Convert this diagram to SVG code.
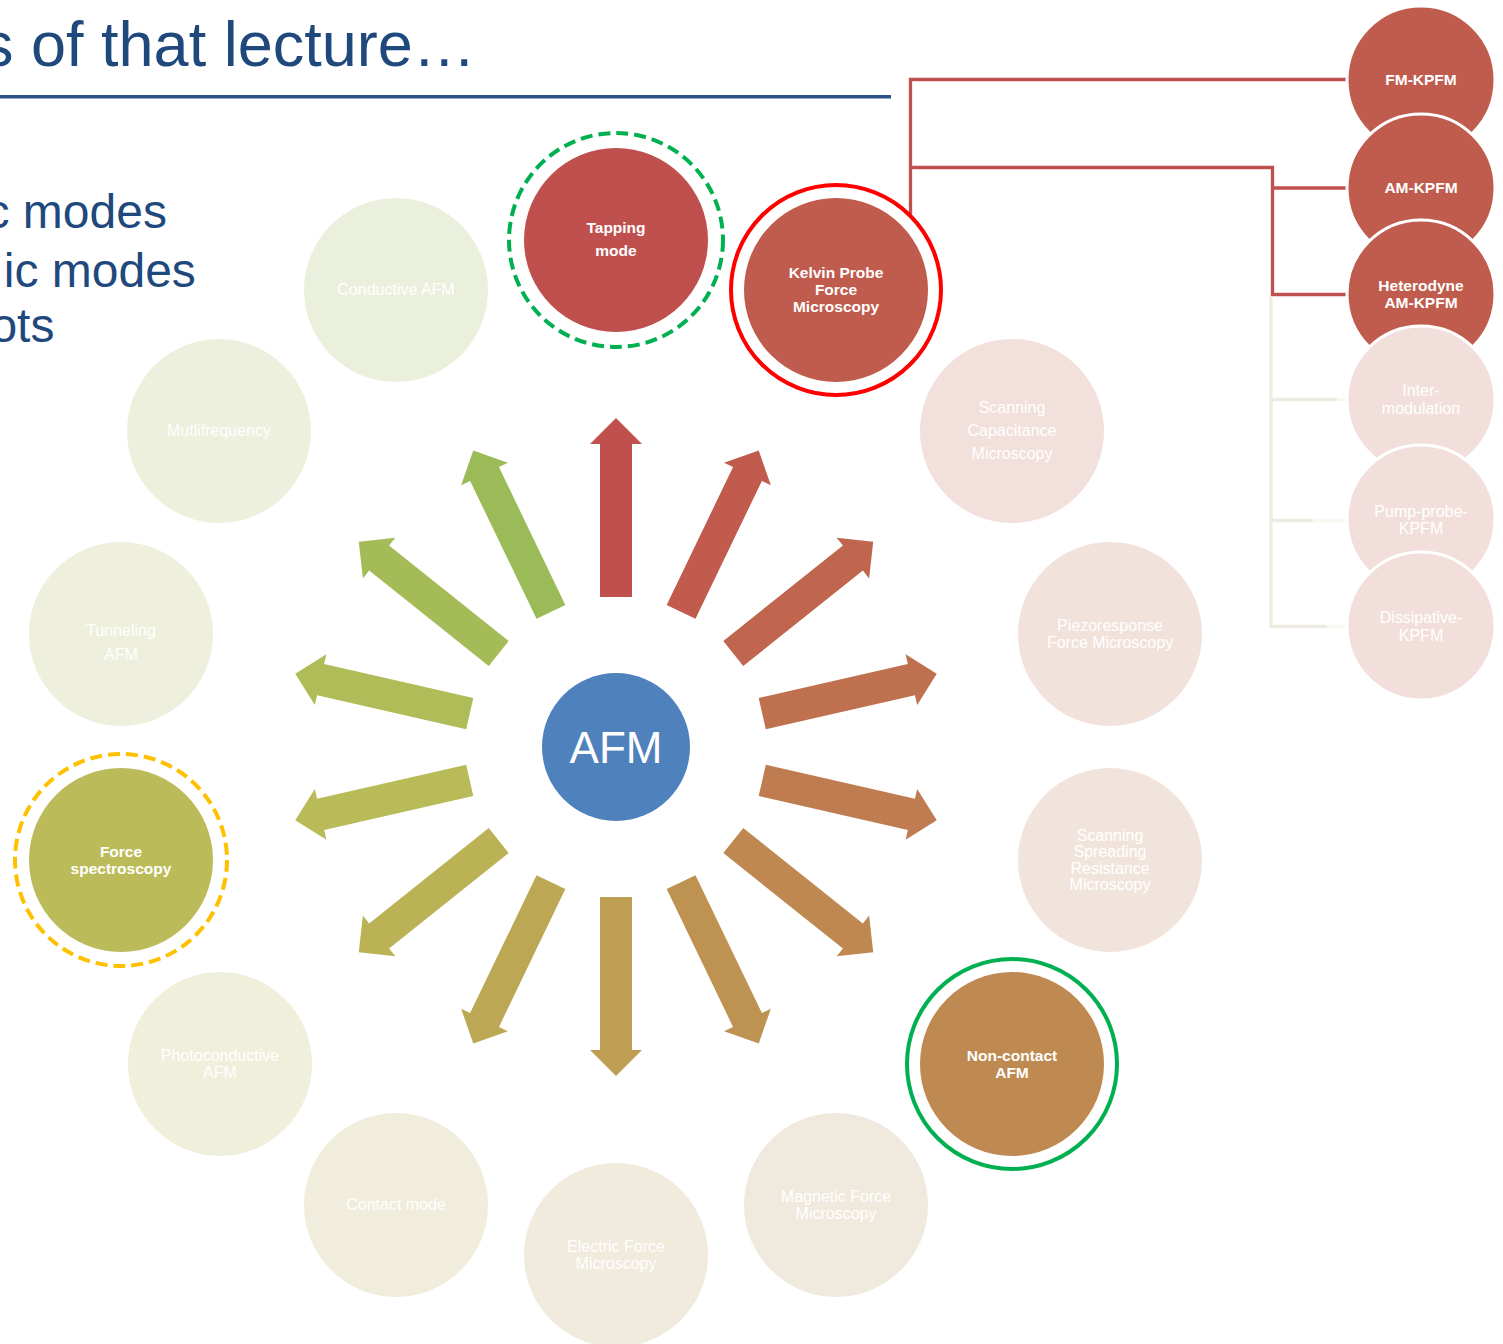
<svg xmlns="http://www.w3.org/2000/svg" width="1503" height="1344" viewBox="0 0 1503 1344">
<style>
.title{font-family:"Liberation Sans",Arial,sans-serif;fill:#1F497D}
.nb{font-family:"Liberation Sans",Arial,sans-serif;font-weight:bold;font-size:15.5px;fill:#FFFFFF;text-anchor:middle}
.nf{font-family:"Liberation Sans",Arial,sans-serif;font-size:16px;fill:#FFFFFF;text-anchor:middle}
.rc{stroke:#FFFFFF;stroke-width:3}
.red{fill:none;stroke:#C0504D;stroke-width:3.3}
.pale{fill:none;stroke:#EEEBE0;stroke-width:3.3}
.fade{fill:none;stroke:#F8F7F2;stroke-width:3.3}
</style>
<defs>
<path id="arr" d="M -16,-150 L -16,-303 L -26,-303 L 0,-329 L 26,-303 L 16,-303 L 16,-150 Z"/>
</defs>
<rect width="1503" height="1344" fill="#FFFFFF"/>

<g id="title">
<text class="title" x="-18" y="66" font-size="63">s of that lecture…</text>
<rect x="0" y="95" width="891" height="3.5" fill="#2A5188"/>
<text class="title" x="-14.5" y="228" font-size="48">c modes</text>
<text class="title" x="3.8" y="287" font-size="48">ic modes</text>
<text class="title" x="-9.6" y="342" font-size="48">ots</text>
</g>

<g id="connectors">
<polyline class="red" points="910.5,214 910.5,79.5 1350,79.5"/>
<polyline class="red" points="910.5,167.5 1272.5,167.5 1272.5,294.5 1350,294.5"/>
<line class="red" x1="1272.5" y1="188" x2="1350" y2="188"/>
<line class="pale" x1="1271" y1="296" x2="1271" y2="627"/>
<line class="pale" x1="1271" y1="399.5" x2="1337" y2="399.5"/>
<line class="fade" x1="1337" y1="399.5" x2="1350" y2="399.5"/>
<line class="pale" x1="1271" y1="520.5" x2="1313" y2="520.5"/>
<line class="fade" x1="1313" y1="520.5" x2="1350" y2="520.5"/>
<polyline class="pale" points="1271,625 1271,626.5 1326,626.5"/>
<line class="fade" x1="1326" y1="626.5" x2="1350" y2="626.5"/>
</g>

<g id="arrows">
<use href="#arr" transform="translate(616,747) rotate(0)" fill="#C0504D"/>
<use href="#arr" transform="translate(616,747) rotate(25.714)" fill="#C05B4D"/>
<use href="#arr" transform="translate(616,747) rotate(51.429)" fill="#C0664E"/>
<use href="#arr" transform="translate(616,747) rotate(77.143)" fill="#BF714F"/>
<use href="#arr" transform="translate(616,747) rotate(102.857)" fill="#BF7C50"/>
<use href="#arr" transform="translate(616,747) rotate(128.571)" fill="#BE8850"/>
<use href="#arr" transform="translate(616,747) rotate(154.286)" fill="#BE9352"/>
<use href="#arr" transform="translate(616,747) rotate(180)" fill="#BD9E52"/>
<use href="#arr" transform="translate(616,747) rotate(205.714)" fill="#BCA854"/>
<use href="#arr" transform="translate(616,747) rotate(231.429)" fill="#BBB256"/>
<use href="#arr" transform="translate(616,747) rotate(257.143)" fill="#B9BB58"/>
<use href="#arr" transform="translate(616,747) rotate(282.857)" fill="#AFBC58"/>
<use href="#arr" transform="translate(616,747) rotate(308.571)" fill="#A5BB58"/>
<use href="#arr" transform="translate(616,747) rotate(334.286)" fill="#9BBB59"/>
</g>

<g id="afm">
<circle cx="616" cy="747" r="74" fill="#4F81BD"/>
<text x="616" y="763" font-family="'Liberation Sans',Arial,sans-serif" font-size="44" fill="#FFFFFF" text-anchor="middle">AFM</text>
</g>

<g id="tapping-mode">
<circle cx="616" cy="240" r="107" fill="none" stroke="#00B050" stroke-width="4" stroke-dasharray="12 6"/>
<circle cx="616" cy="240" r="92" fill="#C0504D"/>
<text class="nb" x="616" y="233">Tapping</text>
<text class="nb" x="616" y="256">mode</text>
</g>

<g id="kpfm">
<circle cx="836" cy="290" r="105" fill="none" stroke="#FF0000" stroke-width="4"/>
<circle cx="836" cy="290" r="92" fill="#C05C4E"/>
<text class="nb" x="836" y="278">Kelvin Probe</text>
<text class="nb" x="836" y="295">Force</text>
<text class="nb" x="836" y="312">Microscopy</text>
</g>

<g id="scm">
<circle cx="1012" cy="431" r="92" fill="#F2E0DC"/>
<text class="nf" x="1012" y="413">Scanning</text>
<text class="nf" x="1012" y="436">Capacitance</text>
<text class="nf" x="1012" y="459">Microscopy</text>
</g>

<g id="pfm">
<circle cx="1110" cy="634" r="92" fill="#F1E2DC"/>
<text class="nf" x="1110" y="631">Piezoresponse</text>
<text class="nf" x="1110" y="648">Force Microscopy</text>
</g>

<g id="ssrm">
<circle cx="1110" cy="860" r="92" fill="#F1E4DD"/>
<text class="nf" x="1110" y="841">Scanning</text>
<text class="nf" x="1110" y="857">Spreading</text>
<text class="nf" x="1110" y="874">Resistance</text>
<text class="nf" x="1110" y="890">Microscopy</text>
</g>

<g id="non-contact">
<circle cx="1012" cy="1064" r="105" fill="none" stroke="#00B050" stroke-width="4"/>
<circle cx="1012" cy="1064" r="92" fill="#BE8A51"/>
<text class="nb" x="1012" y="1061">Non-contact</text>
<text class="nb" x="1012" y="1078">AFM</text>
</g>

<g id="mfm">
<circle cx="836" cy="1205" r="92" fill="#F0E9DD"/>
<text class="nf" x="836" y="1202">Magnetic Force</text>
<text class="nf" x="836" y="1219">Microscopy</text>
</g>

<g id="efm">
<circle cx="616" cy="1255" r="92" fill="#F0EBDC"/>
<text class="nf" x="616" y="1252">Electric Force</text>
<text class="nf" x="616" y="1269">Microscopy</text>
</g>

<g id="contact-mode">
<circle cx="396" cy="1205" r="92" fill="#F0EDDC"/>
<text class="nf" x="396" y="1210">Contact mode</text>
</g>

<g id="photoconductive">
<circle cx="220" cy="1064" r="92" fill="#F0EFDC"/>
<text class="nf" x="220" y="1061">Photoconductive</text>
<text class="nf" x="220" y="1078">AFM</text>
</g>

<g id="force-spectroscopy">
<circle cx="121" cy="860" r="106" fill="none" stroke="#FFC000" stroke-width="4" stroke-dasharray="12 6"/>
<circle cx="121" cy="860" r="92" fill="#BBBB5A"/>
<text class="nb" x="121" y="857">Force</text>
<text class="nb" x="121" y="874">spectroscopy</text>
</g>

<g id="tunneling">
<circle cx="121" cy="634" r="92" fill="#EEF0DD"/>
<text class="nf" x="121" y="636">Tunneling</text>
<text class="nf" x="121" y="660">AFM</text>
</g>

<g id="multifrequency">
<circle cx="219" cy="431" r="92" fill="#ECF0DD"/>
<text class="nf" x="219" y="436">Mutlifrequency</text>
</g>

<g id="conductive">
<circle cx="396" cy="290" r="92" fill="#EBF0DD"/>
<text class="nf" x="396" y="295">Conductive AFM</text>
</g>

<g id="fm-kpfm">
<circle class="rc" cx="1421" cy="80" r="74" fill="#C05C4E"/>
<text class="nb" x="1421" y="85">FM-KPFM</text>
</g>
<g id="am-kpfm">
<circle class="rc" cx="1421" cy="188" r="74" fill="#C05C4E"/>
<text class="nb" x="1421" y="193">AM-KPFM</text>
</g>
<g id="heterodyne">
<circle class="rc" cx="1421" cy="294" r="74" fill="#C05C4E"/>
<text class="nb" x="1421" y="291">Heterodyne</text>
<text class="nb" x="1421" y="308">AM-KPFM</text>
</g>
<g id="intermodulation">
<circle class="rc" cx="1421" cy="400" r="74" fill="#F2DFDC"/>
<text class="nf" x="1421" y="396">Inter-</text>
<text class="nf" x="1421" y="414">modulation</text>
</g>
<g id="pump-probe">
<circle class="rc" cx="1421" cy="519" r="74" fill="#F2DFDC"/>
<text class="nf" x="1421" y="517">Pump-probe-</text>
<text class="nf" x="1421" y="534">KPFM</text>
</g>
<g id="dissipative">
<circle class="rc" cx="1421" cy="626" r="74" fill="#F2DFDC"/>
<text class="nf" x="1421" y="623">Dissipative-</text>
<text class="nf" x="1421" y="641">KPFM</text>
</g>
</svg>
